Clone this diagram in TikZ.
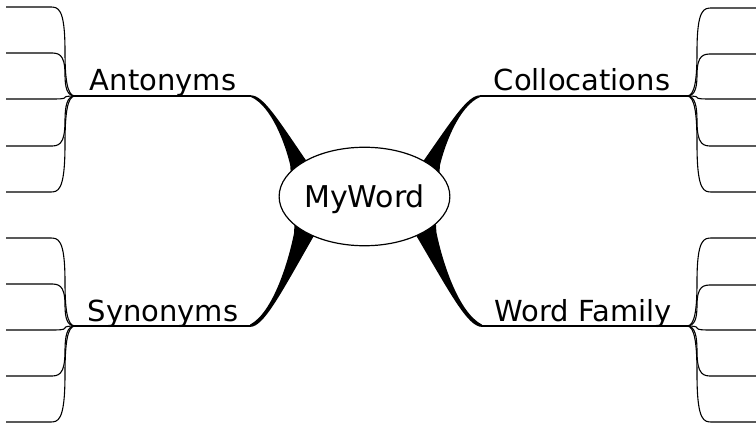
\documentclass[tikz,border=0pt]{standalone}
\usepackage{fontspec}
\setmainfont{DejaVu Sans}
\usetikzlibrary{backgrounds,shapes.geometric}

\tikzset{
  word/.style={ellipse, draw, line width=1.2pt, fill=white, minimum width=165pt, minimum height=98.5pt, inner sep=0pt, text depth=0pt, font=\fontsize{30}{34}\selectfont},
  branchlabel/.style={anchor=base, inner sep=0pt, font=\fontsize{29}{34}\selectfont},
  branch/.style={line width=1.4pt},
  leaf/.style={line width=1.1pt},
  taper/.pic={
    \fill (0,-0.01) .. controls (0.25,-0.01) and (0.55,0.35) .. (1.16,1.0)
      -- (1.1,1.4) -- (0.82,1.25) -- (0.8,1.03)
      .. controls (0.7,0.72) and (0.42,0.15) .. (0,0.015) -- cycle;
  }
}

% leaves: hub name, hub x, hub y, direction, leaf ys
\newcommand{\leafset}[5]{
  \foreach \ly in {#5}{
    \pgfmathsetmacro{\my}{#3+0.5*(\ly-#3)}
    \pgfmathsetmacro{\cy}{#3+0.2*(\ly-#3)}
    \draw[leaf] (#1) .. controls +(#4*8,0) and (#2+#4*10,\cy) .. (#2+#4*10,\my)
      .. controls (#2+#4*10,\ly) and (#2+#4*17,\ly) .. (#2+#4*25,\ly) -- (#2+#4*69,\ly);
  }
}

\begin{document}
\begin{tikzpicture}[x=1pt,y=-1pt]
\useasboundingbox (0,0) rectangle (756,425);

\node[word] (myword) at (364.5,196.5) {MyWord};

\coordinate (anthub) at (75,96);
\coordinate (antend) at (251,96);
\coordinate (colhub) at (687,96);
\coordinate (colend) at (480,96);
\coordinate (synhub) at (75,326);
\coordinate (synend) at (250,326);
\coordinate (famhub) at (687,326);
\coordinate (famend) at (482,326);

\node[branchlabel] (antonyms) at (163,91) {Antonyms};
\node[branchlabel] (collocations) at (582,91) {Collocations};
\node[branchlabel] (synonyms) at (163,321) {Synonyms};
\node[branchlabel] (family) at (583,321) {Word Family};

\draw[branch] (anthub) -- (antend);
\draw[branch] (colend) -- (colhub);
\draw[branch] (synhub) -- (synend);
\draw[branch] (famend) -- (famhub);

\begin{scope}[on background layer]
\pic[x=49pt,y=-67pt] at (antend) {taper};
\pic[x=-50pt,y=-67pt] at (colend) {taper};
\pic[x=55pt,y=90pt] at (synend) {taper};
\pic[x=-57pt,y=91pt] at (famend) {taper};
\end{scope}

\leafset{anthub}{75}{96}{-1}{7,53,99,146,192}
\leafset{synhub}{75}{326}{-1}{238,284,330,376,422}
\leafset{colhub}{687}{96}{1}{8,54,99,146,192}
\leafset{famhub}{687}{326}{1}{238,285,330,376,422}
\end{tikzpicture}
\end{document}
